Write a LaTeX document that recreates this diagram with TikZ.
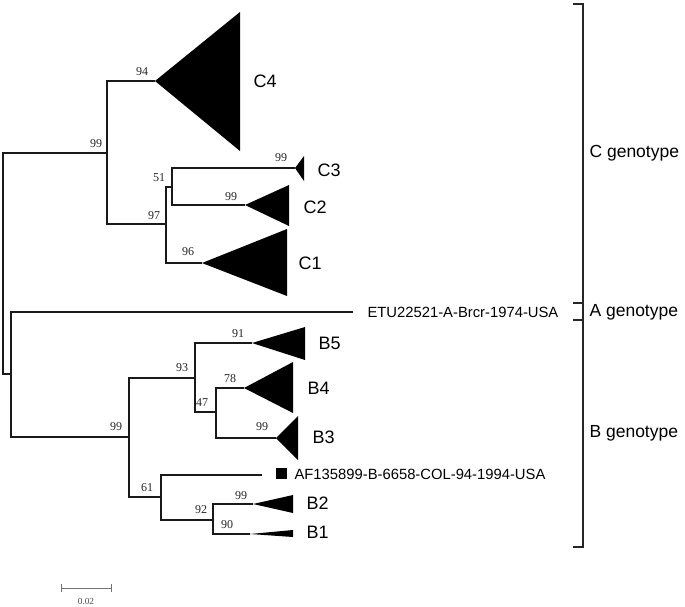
\documentclass[tikz,border=0pt]{standalone}
\usepackage{fontspec}
\setmainfont{Liberation Serif}
\newfontfamily\arialf{Liberation Sans}
\begin{document}
\begin{tikzpicture}[x=1pt,y=-1pt,line width=1.1pt,
  branch/.style={draw=black!90, line width=1.1pt},
  clade/.style={fill=black},
  boot/.style={font=\fontsize{12}{12}\selectfont, text=black!85, inner sep=0pt},
  cladelbl/.style={font=\arialf\fontsize{18}{18}\selectfont, anchor=west, inner sep=0pt},
  leaflbl/.style={font=\arialf\fontsize{14.8}{14.8}\selectfont, anchor=west, inner sep=0pt},
  genolbl/.style={font=\arialf\fontsize{17.5}{17.5}\selectfont, anchor=base west, inner sep=0pt},
  brack/.style={draw=black!85, line width=1.2pt},
  scalebar/.style={draw=black!55, line width=0.9pt}]
\useasboundingbox (0,0) rectangle (685,606);

% internal nodes
\coordinate (nR) at (3,263);
\coordinate (nC) at (107,153);
\coordinate (n97) at (166,224);
\coordinate (n51) at (172,187);
\coordinate (nAB) at (11,374);
\coordinate (nB) at (129,437);
\coordinate (n93) at (195,378);
\coordinate (n47) at (216,412);
\coordinate (n61) at (161,497);
\coordinate (n92) at (213,520);
% tips
\coordinate (tC4) at (155,81);
\coordinate (tC3) at (295,168);
\coordinate (tC2) at (245,205);
\coordinate (tC1) at (202,263);
\coordinate (tA) at (353,312);
\coordinate (tB5) at (252,343);
\coordinate (tB4) at (244,388);
\coordinate (tB3) at (276,438);
\coordinate (tAF) at (262,475);
\coordinate (tB2) at (253,504);
\coordinate (tB1) at (250,534);

% branches
\draw[branch] (nC) -| (nR) |- (nAB);
\draw[branch] (tC4) -| (nC) |- (n97);
\draw[branch] (n51) -| (n97) |- (tC1);
\draw[branch] (tC3) -| (n51) |- (tC2);
\draw[branch] (tA) -| (nAB) |- (nB);
\draw[branch] (n93) -| (nB) |- (n61);
\draw[branch] (tB5) -| (n93) |- (n47);
\draw[branch] (tB4) -| (n47) |- (tB3);
\draw[branch] (tAF) -| (n61) |- (n92);
\draw[branch] (tB2) -| (n92) |- (tB1);

% collapsed clades
\fill[clade] (tC4) -- (240,12) -- (240,151) -- cycle;
\fill[clade] (tC3) -- (304,156) -- (304,181) -- cycle;
\fill[clade] (tC2) -- (289,185) -- (289,226) -- cycle;
\fill[clade] (tC1) -- (287,229) -- (287,296) -- cycle;
\fill[clade] (tB5) -- (305,327) -- (305,360) -- cycle;
\fill[clade] (tB4) -- (293,362) -- (293,413) -- cycle;
\fill[clade] (tB3) -- (298,416) -- (298,460) -- cycle;
\fill[clade] (tB2) -- (293,495) -- (293,513) -- cycle;
\fill[clade] (tB1) -- (293,530) -- (293,537) -- cycle;
\fill[clade] (276,468) rectangle (287,479);

% bootstrap values
\node[boot] (b94) at (142,72) {94};
\node[boot] (b99c) at (96,144) {99};
\node[boot] (b99c3) at (281,158) {99};
\node[boot] (b51) at (159,178) {51};
\node[boot] (b99c2) at (231,197) {99};
\node[boot] (b97) at (154,216) {97};
\node[boot] (b96) at (188,252) {96};
\node[boot] (b91) at (238,334) {91};
\node[boot] (b93) at (182,368) {93};
\node[boot] (b78) at (230,379) {78};
\node[boot] (b47) at (202,403) {47};
\node[boot] (b99b) at (116,427) {99};
\node[boot] (b99b3) at (262,427) {99};
\node[boot] (b61) at (147,488) {61};
\node[boot] (b99b2) at (241,496) {99};
\node[boot] (b92) at (201,510) {92};
\node[boot] (b90) at (227,525) {90};

% clade labels
\node[cladelbl] (lC4) at (253,81) {C4};
\node[cladelbl] (lC3) at (317,170) {C3};
\node[cladelbl] (lC2) at (303,207) {C2};
\node[cladelbl] (lC1) at (298,263) {C1};
\node[cladelbl] (lB5) at (318,343) {B5};
\node[cladelbl] (lB4) at (307,388) {B4};
\node[cladelbl] (lB3) at (312,437) {B3};
\node[cladelbl] (lB2) at (306,503) {B2};
\node[cladelbl] (lB1) at (306,532) {B1};
\node[leaflbl] (lA) at (367,312) {ETU22521-A-Brcr-1974-USA};
\node[leaflbl] (lAF) at (294,474.5) {AF135899-B-6658-COL-94-1994-USA};

% genotype bracket
\coordinate (bT) at (583,4);
\coordinate (bA1) at (583,303);
\coordinate (bA2) at (583,320);
\coordinate (bB) at (583,547);
\draw[brack] ([xshift=-10pt]bT) -- (bT) -- (bB) -- ([xshift=-10pt]bB);
\draw[brack] ([xshift=-10pt]bA1) -- (bA1);
\draw[brack] ([xshift=-10pt]bA2) -- (bA2);
\node[genolbl] (gC) at (589,157) {C genotype};
\node[genolbl] (gA) at (589,316) {A genotype};
\node[genolbl] (gB) at (589,437) {B genotype};

% scale bar
\coordinate (s1) at (61,588);
\coordinate (s2) at (111,588);
\draw[scalebar] (s1) -- (s2);
\draw[scalebar] ([yshift=-4pt]s1) -- ([yshift=4pt]s1);
\draw[scalebar] ([yshift=-4pt]s2) -- ([yshift=4pt]s2);
\node[font=\fontsize{9.3}{9.3}\selectfont, text=black!70, inner sep=0pt] (sl) at (86,601) {0.02};
\end{tikzpicture}
\end{document}
